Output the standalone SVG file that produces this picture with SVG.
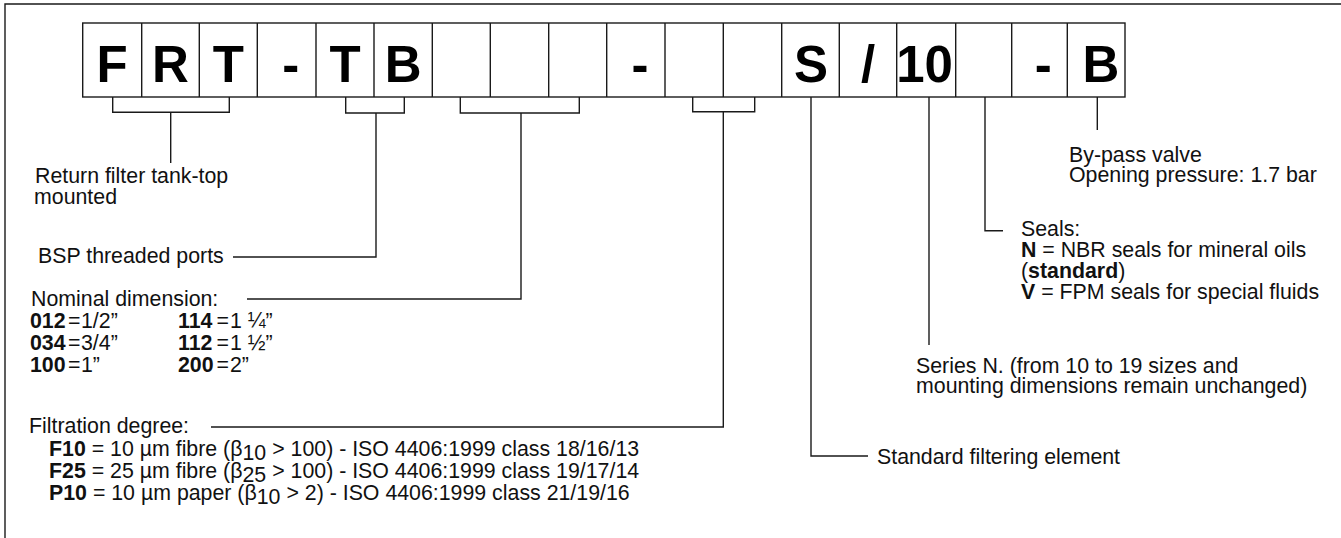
<svg xmlns="http://www.w3.org/2000/svg" width="1341" height="538" viewBox="0 0 1341 538">
<style>
.ln{fill:none;stroke:#1a1a1a;stroke-width:1.4}
.cell{fill:#fff;stroke:#1a1a1a;stroke-width:1.4}
.big{font-family:"Liberation Sans",Arial,sans-serif;font-size:51px;font-weight:bold;fill:#000;text-anchor:middle}
.t{font-family:"Liberation Sans",Arial,sans-serif;font-size:21.33px;fill:#111}
.b{font-weight:bold}
</style>
<rect width="1341" height="538" fill="#fff"/>
<path class="ln" d="M5,538 V4 H1341"/>
<g id="code">
<rect class="cell" x="82.7" y="23" width="1042.3" height="74"/>
<path class="ln" d="M141.7,23V97M199.3,23V97M257.3,23V97M316,23V97M374,23V97M432.3,23V97M490.3,23V97M548.7,23V97M606.7,23V97M665,23V97M723.3,23V97M781.7,23V97M839.3,23V97M896.7,23V97M955.7,23V97M1011.7,23V97M1067.3,23V97"/>
<text class="big" x="112.2" y="82">F</text>
<text class="big" x="170.5" y="82">R</text>
<text class="big" x="228.3" y="82">T</text>
<text class="big" x="290.7" y="82">-</text>
<text class="big" x="345" y="82">T</text>
<text class="big" x="403.2" y="82">B</text>
<text class="big" x="640" y="82">-</text>
<text class="big" x="811" y="82">S</text>
<text class="big" x="868" y="82">/</text>
<text class="big" x="924.5" y="82">10</text>
<text class="big" x="1043.3" y="82">-</text>
<text class="big" x="1101" y="82">B</text>
</g>
<g id="connectors">
<path class="ln" d="M112.7,97V112.3H229.3V97M170.7,112.3V163"/>
<path class="ln" d="M345.7,97V113H404.3V97M376,113V257H233"/>
<path class="ln" d="M460.3,97V113H579.3V97M521,113V299H247"/>
<path class="ln" d="M692.7,97V111.7H754.7V97M723.3,111.7V427H211"/>
<path class="ln" d="M811,97V456H868"/>
<path class="ln" d="M929,97V345"/>
<path class="ln" d="M985,97V230.7H1003"/>
<path class="ln" d="M1097.3,97V130"/>
</g>
<g id="return-filter">
<text class="t" x="35" y="183">Return filter tank-top</text>
<text class="t" x="34" y="204">mounted</text>
</g>
<g id="bsp">
<text class="t" x="38" y="263">BSP threaded ports</text>
</g>
<g id="nominal">
<text class="t" x="31" y="306">Nominal dimension:</text>
<text class="t" y="328"><tspan class="b" x="30">012</tspan><tspan x="68">=</tspan><tspan x="81">1/2”</tspan><tspan class="b" x="178">114</tspan><tspan x="216.5">=</tspan><tspan x="230">1 ¼”</tspan></text>
<text class="t" y="350"><tspan class="b" x="30">034</tspan><tspan x="68">=</tspan><tspan x="81">3/4”</tspan><tspan class="b" x="178">112</tspan><tspan x="216.5">=</tspan><tspan x="230">1 ½”</tspan></text>
<text class="t" y="372"><tspan class="b" x="30">100</tspan><tspan x="68">=</tspan><tspan x="81">1”</tspan><tspan class="b" x="178">200</tspan><tspan x="216.5">=</tspan><tspan x="230">2”</tspan></text>
</g>
<g id="filtration">
<text class="t" x="29" y="433">Filtration degree:</text>
<text class="t" x="49" y="456"><tspan class="b">F10</tspan> = 10 µm fibre (β<tspan dy="4">10</tspan><tspan dy="-4"> &gt; 100) - ISO 4406:1999 class 18/16/13</tspan></text>
<text class="t" x="49" y="478"><tspan class="b">F25</tspan> = 25 µm fibre (β<tspan dy="4">25</tspan><tspan dy="-4"> &gt; 100) - ISO 4406:1999 class 19/17/14</tspan></text>
<text class="t" x="49" y="500"><tspan class="b">P10</tspan> = 10 µm paper (β<tspan dy="4">10</tspan><tspan dy="-4"> &gt; 2) - ISO 4406:1999 class 21/19/16</tspan></text>
</g>
<g id="standard-element">
<text class="t" x="877" y="464">Standard filtering element</text>
</g>
<g id="series">
<text class="t" x="916" y="373">Series N. (from 10 to 19 sizes and</text>
<text class="t" x="916" y="393">mounting dimensions remain unchanged)</text>
</g>
<g id="seals">
<text class="t" x="1021" y="236">Seals:</text>
<text class="t" x="1021" y="257"><tspan class="b">N</tspan> = NBR seals for mineral oils</text>
<text class="t" x="1021" y="278">(<tspan class="b">standard</tspan>)</text>
<text class="t" x="1021" y="299"><tspan class="b">V</tspan> = FPM seals for special fluids</text>
</g>
<g id="bypass">
<text class="t" x="1069" y="162">By-pass valve</text>
<text class="t" x="1069" y="182">Opening pressure: 1.7 bar</text>
</g>
</svg>
